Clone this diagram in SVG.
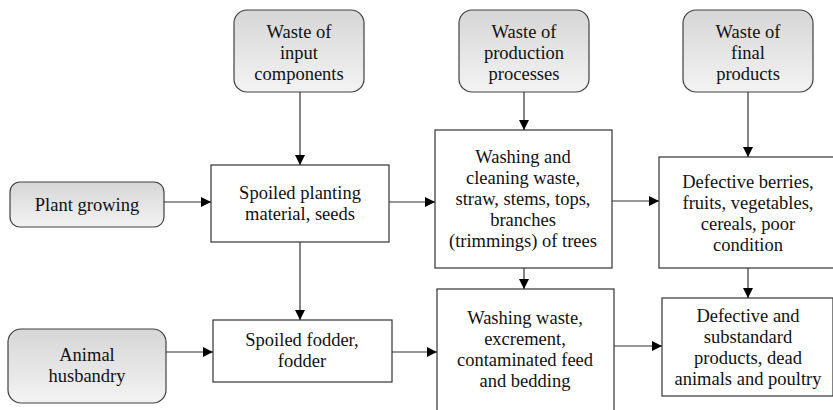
<svg xmlns="http://www.w3.org/2000/svg" width="833" height="410" viewBox="0 0 833 410">
<style>
.src{fill:url(#g);stroke:#404040;stroke-width:1.2}
.box{fill:#fff;stroke:#333;stroke-width:1.2}
text{font-family:'Liberation Serif','Times New Roman',serif;font-size:18.5px;fill:#111;text-anchor:middle}
.c line{stroke:#333;stroke-width:1.2;marker-end:url(#a)}
</style>
<defs>
<linearGradient id="g" x1="0" y1="0" x2="0" y2="1">
<stop offset="0" stop-color="#d6d6d6"/>
<stop offset="1" stop-color="#f3f3f3"/>
</linearGradient>
<marker id="a" viewBox="0 0 10 10" refX="10" refY="5" markerWidth="10" markerHeight="10" markerUnits="userSpaceOnUse" orient="auto">
<path d="M0,0 L10,5 L0,10 z" fill="#000"/>
</marker>
</defs>
<g id="h1"><rect class="src" x="234" y="10" width="130" height="82" rx="13"/>
<text x="299" y="38">Waste of</text><text x="299" y="59">input</text><text x="299" y="80">components</text></g>
<g id="h2"><rect class="src" x="459" y="10" width="130" height="82" rx="13"/>
<text x="524" y="38">Waste of</text><text x="524" y="59">production</text><text x="524" y="80">processes</text></g>
<g id="h3"><rect class="src" x="683" y="10" width="130" height="82" rx="13"/>
<text x="748" y="38">Waste of</text><text x="748" y="59">final</text><text x="748" y="80">products</text></g>
<g id="plant"><rect class="src" x="10" y="182" width="154" height="45" rx="10"/>
<text x="87" y="211">Plant growing</text></g>
<g id="animal"><rect class="src" x="8" y="329" width="158" height="74" rx="13"/>
<text x="87" y="361">Animal</text><text x="87" y="382">husbandry</text></g>
<g id="seeds"><rect class="box" x="211" y="165" width="178" height="77"/>
<text x="300" y="199">Spoiled planting</text><text x="300" y="220">material, seeds</text></g>
<g id="fodder"><rect class="box" x="213" y="320" width="179" height="62"/>
<text x="302" y="346">Spoiled fodder,</text><text x="302" y="367">fodder</text></g>
<g id="washing"><rect class="box" x="435" y="130" width="177" height="138"/>
<text x="523" y="163">Washing and</text><text x="523" y="184">cleaning waste,</text><text x="523" y="205">straw, stems, tops,</text><text x="523" y="226">branches</text><text x="523" y="247">(trimmings) of trees</text></g>
<g id="washwaste"><rect class="box" x="437" y="289" width="177" height="125"/>
<text x="525" y="324">Washing waste,</text><text x="525" y="345">excrement,</text><text x="525" y="366">contaminated feed</text><text x="525" y="387">and bedding</text></g>
<g id="berries"><rect class="box" x="659" y="157" width="175" height="111"/>
<text x="748" y="188">Defective berries,</text><text x="748" y="209">fruits, vegetables,</text><text x="748" y="230">cereals, poor</text><text x="748" y="251">condition</text></g>
<g id="defective"><rect class="box" x="662" y="298" width="171" height="98"/>
<text x="748" y="322">Defective and</text><text x="748" y="343">substandard</text><text x="748" y="364">products, dead</text><text x="748" y="385">animals and poultry</text></g>
<g class="c" id="connectors">
<line x1="300" y1="92" x2="300" y2="165"/>
<line x1="524" y1="92" x2="524" y2="130"/>
<line x1="748" y1="92" x2="748" y2="157"/>
<line x1="164" y1="202" x2="211" y2="202"/>
<line x1="389" y1="202" x2="435" y2="202"/>
<line x1="612" y1="201" x2="659" y2="201"/>
<line x1="300" y1="242" x2="300" y2="320"/>
<line x1="166" y1="352" x2="213" y2="352"/>
<line x1="392" y1="352" x2="437" y2="352"/>
<line x1="524" y1="268" x2="524" y2="289"/>
<line x1="614" y1="346" x2="662" y2="346"/>
<line x1="748" y1="268" x2="748" y2="298"/>
</g>
</svg>
